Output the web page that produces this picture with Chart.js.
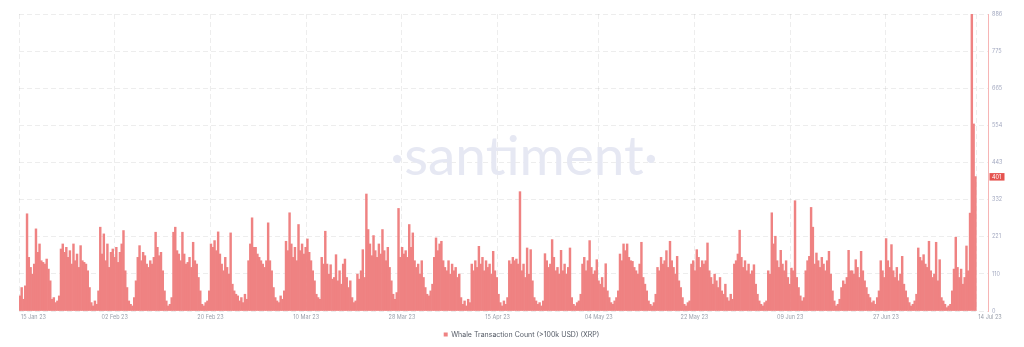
<!DOCTYPE html>
<html><head><meta charset="utf-8">
<script src="https://cdn.jsdelivr.net/npm/chart.js@4.4.0/dist/chart.umd.min.js"></script>
<style>html,body{margin:0;padding:0;background:#fff;overflow:hidden}#wrap{width:1024px;height:347px;position:relative}</style>
</head><body><div id="wrap"><canvas id="c" width="1024" height="347"></canvas></div>
<script>
const SERIES_LABEL = 'Whale Transaction Count (>100k USD) (XRP)';
// Binned transaction counts, 15 Jan 23 -> 14 Jul 23
const jan = [45,70,35,75,290,160,130,110,140,245, 175,200,150,145,140,155,125,90,35,40, 25,30,45,185,200,175,190,160,180,140, 200,150,170,130,195,150,145,140,120,70, 25,15,30,20,60,250,170,230,150,200, 130];
const feb = [175,185,160,190,145,175,200,240,120, 70,30,20,15,40,90,160,195,150,175, 165,140,130,150,140,160,235,190,165,175, 120,60,30,15,20,40,235,250,180,170, 150,235,170,140,145,160,130,205,150,140, 100,60,20,15,25,30,60,200,190,210, 180,236,170,140,120,160,130,110,233,80, 60,50,45,30,40,25,50,35,150,200, 278,190,190,170,160];
const mar = [150,140,130,150,263, 150,120,70,40,30,25,45,35,60,208, 180,293,200,160,190,150,258,180,200,170, 190,215,175,150,120,90,50,40,35,160, 140,238,140,110,138,95,100,168,90,120, 80,140,155,100,70,90,40,25,30,110, 95,120,183,100,349,243,200,165,225,180, 160,200,170,243,180,150,190,130,90,50, 35,55,306,160,190,170,180,160,258,190, 233,150,130,140,110,150,100,70];
const apr = [50,45, 60,80,160,218,180,200,208,150,130,120, 150,110,140,120,130,100,110,40,20,30, 15,35,25,140,120,150,130,193,140,160, 120,150,130,140,110,178,120,100,50,25, 15,30,20,40,150,140,160,150,155,140, 356,120,140,100,188,110,183,90,40,30, 20,25,15,30,171,150,130,140,213,160, 120,130,110,181,120,140,110,130,188,40, 20,15,25,30,50,140,160,120];
const may = [150,210, 130,110,120,153,90,80,100,70,141,60, 40,25,20,30,40,60,170,150,200,180, 200,160,150,148,130,120,110,140,205,100, 80,60,30,20,15,25,50,130,120,160, 140,150,180,130,208,150,130,110,163,90, 70,40,20,15,25,30,140,150,120,183, 160,130,150,140,150,203,120,100,80,110, 90,70,100,60,50,80,40,30,50,35, 140,150,170,241,160,130,150,120,140,110,120];
const jun = [138,80,50,30,20,15,25,30,120, 110,293,200,223,150,130,181,140,120,150, 100,80,128,120,329,100,70,45,30,40, 120,150,163,309,250,140,173,150,130,160, 140,120,150,178,110,60,30,15,20,35, 70,90,80,100,181,120,120,110,153,130, 100,178,120,90,70,50,40,25,30,20, 40,60,150,120,100,216,150,130,198,120, 100,130,90,110,163,80,60,40,25,15, 20];
const jul = [30,50,188,160,150,168,140,130,208, 120,100,110,205,90,153,40,30,20,10, 15,20,60,125,220,130,100,125,80,100, 194,120,292,886,558,401];

const xTickDays = [0, 18, 36, 54, 72, 90, 109, 127, 145, 163, 180];
const xTickLabels = ['15 Jan 23','02 Feb 23','20 Feb 23','10 Mar 23','28 Mar 23','15 Apr 23','04 May 23','22 May 23','09 Jun 23','27 Jun 23','14 Jul 23'];
const yTickLabels = ['0','110','221','332','443','554','665','775','886'];
const Y_MAX = 886;
const SPAN_DAYS = 180;
const X_MAX = 182.2;

const values = [].concat(jan, feb, mar, apr, may, jun, jul);
const binDays = SPAN_DAYS / values.length;
const points = values.map((v, i) => ({ x: (i + 0.5) * binDays, y: v }));

const FONT = 'Inter, "Noto Sans", sans-serif';

const watermark = {
  id: 'watermark',
  beforeDatasetsDraw(chart) {
    const ctx = chart.ctx;
    ctx.save();
    ctx.font = '400 55px Lato, "Open Sans", sans-serif';
    ctx.fillStyle = '#e6e8f3';
    ctx.textAlign = 'center';
    ctx.textBaseline = 'alphabetic';
    ctx.fillText('\u00B7santiment\u00B7', 524, 175);
    ctx.restore();
  }
};

const xLabels = {
  id: 'xLabels',
  afterDraw(chart) {
    const ctx = chart.ctx, sx = chart.scales.x, area = chart.chartArea;
    ctx.save();
    ctx.font = '5.5px ' + FONT;
    ctx.fillStyle = '#9aa0ab';
    ctx.textBaseline = 'middle';
    xTickDays.forEach((d, i) => {
      const px = sx.getPixelForValue(d);
      const edge = (i === 0 || i === xTickDays.length - 1);
      ctx.textAlign = edge ? 'left' : 'center';
      ctx.fillText(xTickLabels[i], edge ? px + 2 : px, area.bottom + 6);
    });
    ctx.restore();
  }
};

const lastBadge = {
  id: 'lastBadge',
  afterDraw(chart) {
    const ctx = chart.ctx, sy = chart.scales.y, area = chart.chartArea;
    const last = values[values.length - 1];
    const y = sy.getPixelForValue(last);
    ctx.save();
    ctx.fillStyle = '#e5534f';
    ctx.fillRect(area.right + 1.5, y - 3.5, 15, 7.5);
    ctx.fillStyle = '#ffffff';
    ctx.font = '5.5px ' + FONT;
    ctx.textAlign = 'left';
    ctx.textBaseline = 'middle';
    ctx.fillText(String(last), area.right + 4, y + 0.3);
    ctx.restore();
  }
};

new Chart(document.getElementById('c'), {
  type: 'bar',
  data: {
    datasets: [{
      label: SERIES_LABEL,
      data: points,
      backgroundColor: 'rgb(239,130,130)',
      borderWidth: 0,
      barPercentage: 1,
      categoryPercentage: 1,
      grouped: false
    }]
  },
  options: {
    responsive: false,
    animation: false,
    devicePixelRatio: 1,
    layout: { padding: { left: 19, right: 0, top: 14, bottom: 2 } },
    scales: {
      x: {
        type: 'linear', min: 0, max: X_MAX, offset: false,
        afterBuildTicks: s => { s.ticks = xTickDays.map(v => ({ value: v })); },
        afterFit: s => { s.height = 14; },
        ticks: { display: false },
        grid: { color: 'rgba(0,0,0,0.07)', drawTicks: false, offset: false },
        border: { display: false, dash: [5, 3] }
      },
      y: {
        position: 'right', min: 0, max: Y_MAX,
        afterBuildTicks: s => { s.ticks = yTickLabels.map((_, i) => ({ value: i * Y_MAX / (yTickLabels.length - 1) })); },
        afterFit: s => { s.width = 36; },
        ticks: { callback: (v, i) => yTickLabels[i], font: { size: 5.5, family: FONT }, color: '#a3a9c0', padding: 4, autoSkip: false, maxRotation: 0 },
        grid: { color: 'rgba(0,0,0,0.07)', drawTicks: false },
        border: { display: true, color: 'rgba(240,120,120,0.55)', width: 1, dash: [5, 3] }
      }
    },
    plugins: {
      legend: {
        position: 'bottom', maxHeight: 20,
        labels: { boxWidth: 4, boxHeight: 4, font: { size: 7, family: FONT }, color: '#555b66', padding: 6 }
      },
      tooltip: { enabled: false }
    }
  },
  plugins: [watermark, xLabels, lastBadge]
});
</script>
</body></html>
